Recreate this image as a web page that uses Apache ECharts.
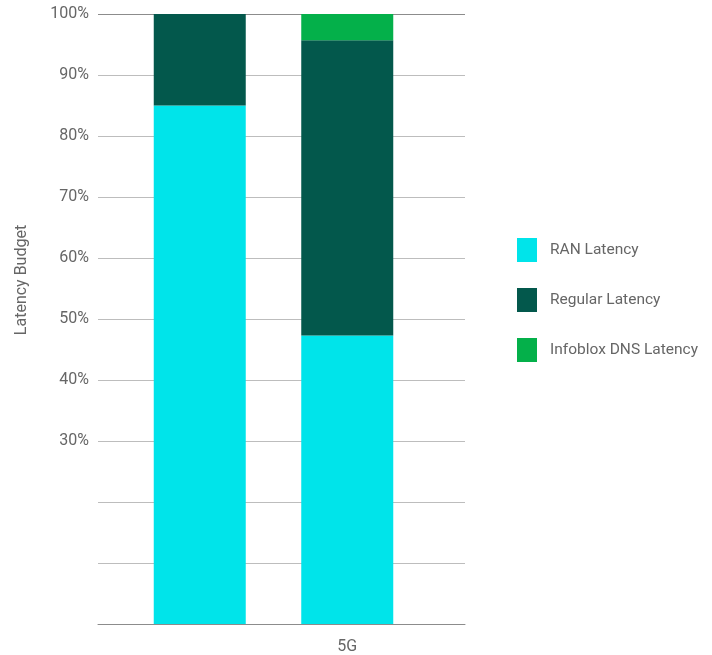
<!DOCTYPE html>
<html>
<head>
<meta charset="utf-8">
<script src="https://cdn.jsdelivr.net/npm/echarts@6/dist/echarts.min.js"></script>
<style>
  html, body { margin: 0; padding: 0; background: #fff; }
  #chart { width: 712px; height: 655px; }
</style>
</head>
<body>
<div id="chart"></div>
<script>
// categories and values (percent of latency budget)
var categories = ['', '5G'];
var ranLatency = [85, 47.3];
var regularLatency = [15, 48.4];
var dnsLatency = [0, 4.3];
var yTicks = [0, 10, 20, 30, 40, 50, 60, 70, 80, 90, 100];

var font = 'Roboto, "Liberation Sans", sans-serif';

var myChart = echarts.init(document.getElementById('chart'));

// grid lines: top one darker, the rest light
var lineColors = yTicks.map(function (v, i) {
    return (i === yTicks.length - 1) ? '#8c8c8c' : '#bdbdbd';
});

myChart.setOption({
    animation: false,
    textStyle: { fontFamily: font },
    legend: {
        orient: 'vertical',
        left: 512,
        top: 233,
        itemWidth: 20,
        itemHeight: 24,
        itemGap: 26,
        icon: 'rect',
        textStyle: { color: '#666', fontSize: 15.5, padding: [0, 0, 0, 8] },
        data: ['RAN Latency', 'Regular Latency', 'Infoblox DNS Latency']
    },
    graphic: [{
        type: 'text',
        x: 22,
        y: 280,
        rotation: Math.PI / 2,
        style: {
            text: 'Latency Budget',
            fill: '#666',
            fontSize: 16,
            fontFamily: font,
            textAlign: 'center',
            textVerticalAlign: 'middle'
        }
    }],
    grid: [
        // background grid lines and y labels
        { left: 98, right: 247, top: 14, bottom: 31 },
        // the bars
        { left: 126, right: 291, top: 14, bottom: 31 }
    ],
    xAxis: [{
        gridIndex: 0,
        type: 'category',
        data: categories,
        axisLine: { show: true, lineStyle: { color: '#8c8c8c', width: 1 } },
        axisTick: { show: false },
        axisLabel: { show: false }
    }, {
        gridIndex: 1,
        type: 'category',
        data: categories,
        axisLine: { show: false },
        axisTick: { show: false },
        axisLabel: { color: '#666', fontSize: 16, margin: 15 }
    }],
    yAxis: [{
        gridIndex: 0,
        type: 'value',
        min: 0,
        max: 100,
        interval: 10,
        axisLine: { show: false },
        axisTick: { show: false },
        splitLine: { show: true, lineStyle: { color: lineColors, width: 1 } },
        axisLabel: {
            color: '#666',
            fontSize: 16,
            margin: 9,
            formatter: function (v) { return v < 30 ? '' : v + '%'; }
        }
    }, {
        gridIndex: 1,
        type: 'value',
        min: 0,
        max: 100,
        interval: 10,
        show: false
    }],
    series: [{
        name: 'RAN Latency',
        type: 'bar',
        stack: 'total',
        xAxisIndex: 1,
        yAxisIndex: 1,
        barWidth: 92,
        itemStyle: { color: '#00e4ea' },
        data: ranLatency
    }, {
        name: 'Regular Latency',
        type: 'bar',
        stack: 'total',
        xAxisIndex: 1,
        yAxisIndex: 1,
        barWidth: 92,
        itemStyle: { color: '#03584c' },
        data: regularLatency
    }, {
        name: 'Infoblox DNS Latency',
        type: 'bar',
        stack: 'total',
        xAxisIndex: 1,
        yAxisIndex: 1,
        barWidth: 92,
        itemStyle: { color: '#04b04a' },
        data: dnsLatency
    }]
});
</script>
</body>
</html>
